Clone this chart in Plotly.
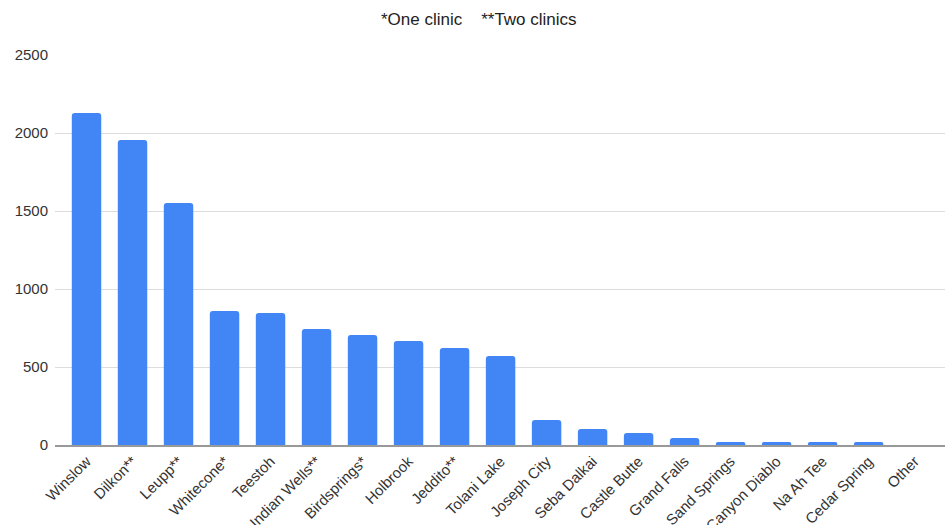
import plotly.graph_objects as go

categories = ["Winslow", "Dilkon**", "Leupp**", "Whitecone*", "Teestoh", "Indian Wells**",
              "Birdsprings*", "Holbrook", "Jeddito**", "Tolani Lake", "Joseph City",
              "Seba Dalkai", "Castle Butte", "Grand Falls", "Sand Springs", "Canyon Diablo",
              "Na Ah Tee", "Cedar Spring", "Other"]
values = [2128, 1955, 1551, 859, 846, 744, 705, 667, 622, 571, 160, 103, 77, 45, 19, 19, 19, 19, 0]
y_ticks = [0, 500, 1000, 1500, 2000, 2500]

font_family = "Arial, Liberation Sans, sans-serif"

fig = go.Figure(go.Bar(
    x=categories, y=values,
    marker=dict(color="#4285F4", line=dict(width=0)),
    hoverinfo="x+y",
))

fig.update_layout(
    width=950, height=525,
    margin=dict(l=55, r=5, t=55, b=80),
    paper_bgcolor="white", plot_bgcolor="white",
    bargap=0.36,
    barcornerradius=3,
    showlegend=False,
    font=dict(family=font_family, color="#222222", size=15),
    title=dict(text="*One clinic    **Two clinics", x=0.504, xanchor="center",
               y=0.963, yanchor="middle", yref="container",
               font=dict(family=font_family, size=17, color="#222222")),
    xaxis=dict(tickangle=-45, showgrid=False, showline=True, linecolor="#999999",
               linewidth=1.5, ticks="", automargin=False,
               range=[-0.685, 18.66],
               tickfont=dict(size=15, color="#333333")),
    yaxis=dict(range=[0, 2500], tickvals=y_ticks, showgrid=True, gridcolor="#DDDDDD",
               gridwidth=1.3, zeroline=False, showline=False, ticks="",
               ticklabelstandoff=6, automargin=False,
               tickfont=dict(size=15, color="#333333")),
)

fig.write_html("out.html")
